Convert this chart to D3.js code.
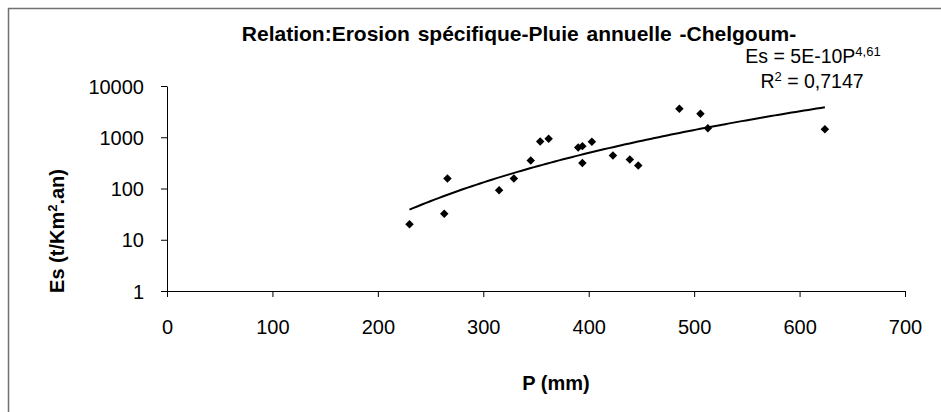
<!DOCTYPE html>
<html>
<head>
<meta charset="utf-8">
<script src="https://cdn.jsdelivr.net/npm/d3@7"></script>
<style>
  html, body { margin: 0; padding: 0; background: #fff; }
  svg { display: block; }
  text { font-family: "Liberation Sans", Arial, sans-serif; fill: #000; }
</style>
</head>
<body>
<div id="chart"></div>
<script>
// ---- data ----
const rainfall = [230, 263, 266, 315, 329, 345, 354, 362, 390, 394, 394, 403, 423, 439, 447, 486, 506, 513, 624];
const erosion  = [20, 32, 157, 92, 157, 353, 828, 930, 632, 671, 313, 813, 442, 369, 282, 3580, 2860, 1500, 1440];
const xTickValues = [0, 100, 200, 300, 400, 500, 600, 700];
const yTickValues = [1, 10, 100, 1000, 10000];
const titleText = "Relation:Erosion spécifique-Pluie annuelle -Chelgoum-";
const xTitle = "P (mm)";
// power trendline coefficients shown on the chart: Es = a * P^b
const trendA = 5e-10;
const trendB = 4.61;
const trendR2 = "0,7147";

const W = 941, H = 412;
const svg = d3.select("#chart").append("svg").attr("width", W).attr("height", H);

// frame (only top/left visible)
svg.append("rect").attr("x", 8.5).attr("y", 8.5).attr("width", 1200).attr("height", 1200)
  .attr("fill", "none").attr("stroke", "#707070").attr("stroke-width", 1.5);

const x = d3.scaleLinear().domain([0, 700]).range([167, 905]);
const y = d3.scaleLog().domain([1, 10000]).range([291, 86]);

const fs = 20;

// x axis
const gx = svg.append("g").attr("transform", `translate(0,${y(1)})`)
  .call(d3.axisBottom(x).tickValues(xTickValues).tickSize(6).tickSizeOuter(0).tickFormat(d3.format("d")));
gx.selectAll("text").attr("y", 43).attr("dy", 0).style("font-size", fs + "px");

// y axis
const gy = svg.append("g").attr("transform", `translate(${x(0)},0)`)
  .call(d3.axisLeft(y).tickValues(yTickValues).tickSize(6).tickSizeOuter(0).tickPadding(17).tickFormat(d3.format("d")));
gy.selectAll("text").style("font-size", fs + "px").attr("dy", "0.35em");

svg.selectAll(".domain, .tick line").attr("stroke", "#000").attr("stroke-width", 1);

// trendline
const pMin = d3.min(rainfall), pMax = d3.max(rainfall);
const trendPts = d3.range(0, 101).map(i => {
  const p = pMin + (pMax - pMin) * i / 100;
  return [p, trendA * Math.pow(p, trendB)];
});
svg.append("path").datum(trendPts)
  .attr("fill", "none").attr("stroke", "#000").attr("stroke-width", 2)
  .attr("d", d3.line().x(d => x(d[0])).y(d => y(d[1])));

// points
const pts = rainfall.map((p, i) => ({ p, e: erosion[i] }));
svg.append("g").selectAll("path").data(pts).join("path")
  .attr("d", d3.symbol(d3.symbolSquare, 36)())
  .attr("transform", d => `translate(${x(d.p)},${y(d.e)}) rotate(45)`)
  .attr("fill", "#000");

// title
svg.append("text").attr("x", 519).attr("y", 41).attr("text-anchor", "middle")
  .style("font-size", "21px").style("font-weight", "bold").style("word-spacing", "2px")
  .text(titleText);

// equation
const eq = svg.append("text").attr("x", 813).attr("y", 63).attr("text-anchor", "middle").style("font-size", "19.5px");
eq.append("tspan").text("Es = 5E-10P");
eq.append("tspan").attr("dy", -7).style("font-size", "13px").text("4,61");
const r2 = svg.append("text").attr("x", 812).attr("y", 88).attr("text-anchor", "middle").style("font-size", "19.5px");
r2.append("tspan").text("R");
r2.append("tspan").attr("dy", -7).style("font-size", "13px").text("2");
r2.append("tspan").attr("dy", 7).text(" = " + trendR2);

// axis titles
svg.append("text").attr("x", 556).attr("y", 390).attr("text-anchor", "middle")
  .style("font-size", fs + "px").style("font-weight", "bold").text(xTitle);

const yt = svg.append("text").attr("transform", "translate(64,231) rotate(-90)").attr("text-anchor", "middle")
  .style("font-size", fs + "px").style("font-weight", "bold");
yt.append("tspan").text("Es (t/Km");
yt.append("tspan").attr("dy", -7).style("font-size", "13px").text("2");
yt.append("tspan").attr("dy", 7).text(".an)");
</script>
</body>
</html>
